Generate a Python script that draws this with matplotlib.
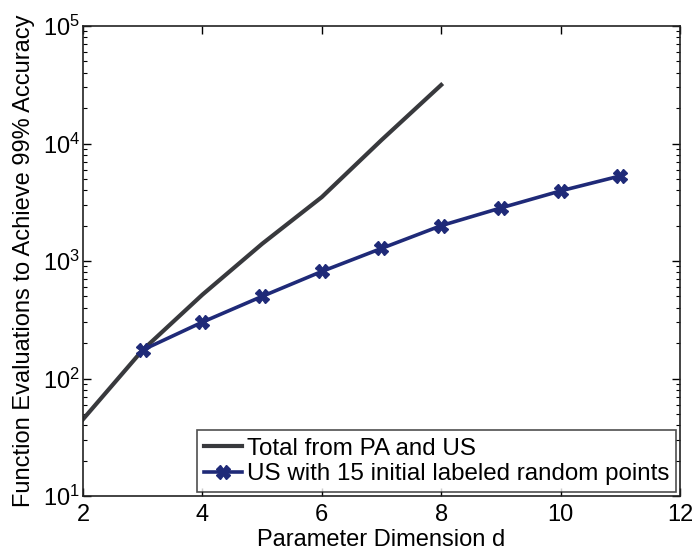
import matplotlib
matplotlib.use("Agg")
import matplotlib.pyplot as plt
from matplotlib.ticker import LogLocator, NullFormatter

plt.rcParams['font.family'] = ['Liberation Sans', 'DejaVu Sans']
plt.rcParams['mathtext.fontset'] = 'custom'
plt.rcParams['mathtext.rm'] = 'Liberation Sans'

# total function evaluations (PA + US)
d_total = [2, 3, 4, 5, 6, 7, 8]
evals_total = [45, 175, 517, 1400, 3500, 10700, 31500]

# uncertainty sampling only
d_us = [3, 4, 5, 6, 7, 8, 9, 10, 11]
evals_us = [175, 302, 500, 815, 1280, 2000, 2830, 3950, 5300]

labels = ['Total from PA and US', 'US with 15 initial labeled random points']

fig = plt.figure(figsize=(6.94, 5.52), dpi=100)
ax = fig.add_axes([0.1196, 0.1014, 0.8602, 0.8515])

ax.plot(d_total, evals_total, color='#38393d', lw=3.0, label=labels[0], zorder=2)
ax.plot(d_us, evals_us, color='#1f2a78', lw=2.6, marker='X', ms=10,
        mec='#1f2a78', mfc='#1f2a78', label=labels[1], zorder=3)

ax.set_yscale('log')
ax.set_xlim(2, 12)
ax.set_ylim(10, 1e5)
ax.set_xticks([2, 4, 6, 8, 10, 12])
ax.yaxis.set_major_locator(LogLocator(base=10, numticks=10))
ax.yaxis.set_minor_locator(LogLocator(base=10, subs=range(2, 10), numticks=10))
ax.yaxis.set_minor_formatter(NullFormatter())

ax.tick_params(which='both', direction='in', top=True, right=True, labelsize=17)
ax.tick_params(axis='x', pad=6)
ax.tick_params(axis='y', pad=2)
ax.tick_params(which='major', length=6, width=1.0)
ax.tick_params(which='minor', length=3, width=0.8)
for s in ax.spines.values():
    s.set_linewidth(1.2)
    s.set_color('#222222')

ax.set_xlabel('Parameter Dimension d', fontsize=17, labelpad=2)
ax.set_ylabel('Function Evaluations to Achieve 99% Accuracy', fontsize=17, labelpad=6)

leg = ax.legend(loc='lower right', fontsize=17.4, frameon=True, fancybox=False,
                borderpad=0.3, handlelength=1.55, handletextpad=0.2,
                labelspacing=0.15, borderaxespad=0.15)
leg.get_frame().set_edgecolor('#222222')
leg.get_frame().set_linewidth(1.2)

fig.savefig('out.png', dpi=100)
